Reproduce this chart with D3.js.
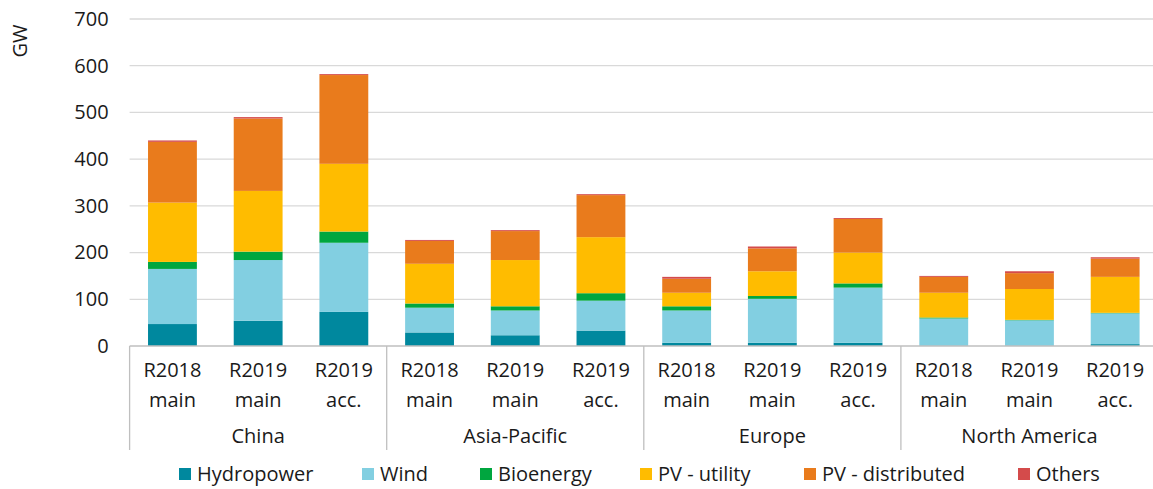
<!DOCTYPE html>
<html>
<head>
<meta charset="utf-8">
<script src="https://cdn.jsdelivr.net/npm/d3@7"></script>
<style>
  body { margin: 0; background: #fff; }
  text { font-family: "Open Sans", "Noto Sans", sans-serif; fill: #1a1a1a; }
</style>
</head>
<body>
<div class="chart"></div>
<script>
var svgWidth = 1153;
var svgHeight = 489;

// data (GW)
var regions = ["China", "Asia-Pacific", "Europe", "North America"];
var scenarios = [["R2018", "main"], ["R2019", "main"], ["R2019", "acc."]];
var seriesNames = ["Hydropower", "Wind", "Bioenergy", "PV - utility", "PV - distributed", "Others"];
var seriesColors = ["#00889e", "#82cfe1", "#00a63f", "#ffbc00", "#e97b1c", "#d44b4b"];

var hydropower    = [47, 54, 73,  29, 23, 33,  7, 7, 7,  0, 0, 4];
var wind          = [118, 130, 148,  53, 53, 64,  69, 94, 118,  59, 55, 66];
var bioenergy     = [15, 18, 24,  9, 9, 16,  9, 6, 9,  2, 1, 1];
var pvUtility     = [127, 130, 145,  85, 99, 120,  29, 53, 66,  53, 66, 77];
var pvDistributed = [130, 155, 190,  49, 62, 90,  30, 49, 72,  34, 34, 39];
var others        = [3, 3, 2,  2, 2, 2,  4, 4, 2,  2, 4, 3];

var yTicks = [0, 100, 200, 300, 400, 500, 600, 700];

var seriesValues = [hydropower, wind, bioenergy, pvUtility, pvDistributed, others];

// build rows for the stack
var rows = [];
regions.forEach(function(r, ri) {
  scenarios.forEach(function(s, si) {
    var row = { id: r + "|" + si, region: r, scen: s };
    var idx = ri * scenarios.length + si;
    seriesNames.forEach(function(name, k) {
      row[name] = seriesValues[k][idx];
    });
    rows.push(row);
  });
});

var plotLeft = 129.6;
var step = 85.7;
var plotTop = 19;
var plotBottom = 346;

var svg = d3.select(".chart").append("svg")
  .attr("width", svgWidth)
  .attr("height", svgHeight);

var xScale = d3.scaleBand()
  .domain(rows.map(d => d.id))
  .range([plotLeft, plotLeft + step * rows.length])
  .paddingInner(0.43)
  .paddingOuter(0.215);

var yScale = d3.scaleLinear()
  .domain([0, 700])
  .range([plotBottom, plotTop]);

// gridlines
svg.append("g")
  .selectAll("line")
  .data(yTicks.slice(1))
  .enter()
  .append("line")
  .attr("x1", plotLeft)
  .attr("x2", svgWidth)
  .attr("y1", d => yScale(d))
  .attr("y2", d => yScale(d))
  .attr("stroke", "#d9d9d9")
  .attr("stroke-width", 1.3);

// y axis labels
var leftAxis = d3.axisLeft(yScale).tickValues(yTicks).tickSize(0).tickPadding(21);
var yAxis = svg.append("g")
  .attr("transform", `translate(${plotLeft}, 0)`)
  .call(leftAxis);
yAxis.select(".domain").remove();
yAxis.selectAll("text")
  .style("font-size", "20px")
  .attr("fill", "#1a1a1a")
  .attr("font-family", "Open Sans, Noto Sans, sans-serif");

svg.append("text")
  .attr("transform", "translate(27, 41) rotate(-90)")
  .attr("text-anchor", "middle")
  .style("font-size", "20px")
  .text("GW");

// stacked bars
var stack = d3.stack().keys(seriesNames);
var stacked = stack(rows);

svg.append("g")
  .selectAll("g")
  .data(stacked)
  .enter()
  .append("g")
  .attr("fill", (d, i) => seriesColors[i])
  .selectAll("rect")
  .data(d => d)
  .enter()
  .append("rect")
  .attr("x", d => xScale(d.data.id))
  .attr("width", xScale.bandwidth())
  .attr("y", d => yScale(d[1]))
  .attr("height", d => Math.max(0, yScale(d[0]) - yScale(d[1])));

// x axis line
svg.append("line")
  .attr("x1", plotLeft)
  .attr("x2", svgWidth)
  .attr("y1", plotBottom)
  .attr("y2", plotBottom)
  .attr("stroke", "#bfbfbf")
  .attr("stroke-width", 1.5);

// group separators
var groupBounds = regions.map((r, i) => plotLeft + i * step * scenarios.length);
svg.append("g")
  .selectAll("line")
  .data(groupBounds)
  .enter()
  .append("line")
  .attr("x1", d => d)
  .attr("x2", d => d)
  .attr("y1", plotBottom)
  .attr("y2", 450)
  .attr("stroke", "#bfbfbf")
  .attr("stroke-width", 1.3);

// category labels
var catLabels = svg.append("g")
  .selectAll("text")
  .data(rows)
  .enter()
  .append("text")
  .attr("text-anchor", "middle")
  .style("font-size", "20px")
  .attr("x", d => xScale(d.id) + xScale.bandwidth() / 2);
catLabels.append("tspan")
  .attr("x", d => xScale(d.id) + xScale.bandwidth() / 2)
  .attr("y", 377)
  .text(d => d.scen[0]);
catLabels.append("tspan")
  .attr("x", d => xScale(d.id) + xScale.bandwidth() / 2)
  .attr("y", 407)
  .text(d => d.scen[1]);

// region labels
svg.append("g")
  .selectAll("text")
  .data(regions)
  .enter()
  .append("text")
  .attr("text-anchor", "middle")
  .style("font-size", "20px")
  .attr("x", (d, i) => groupBounds[i] + step * scenarios.length / 2)
  .attr("y", 443)
  .text(d => d);

// legend
var legendX = [179, 362, 480, 640, 804, 1018];
var legend = svg.append("g")
  .selectAll("g")
  .data(seriesNames)
  .enter()
  .append("g")
  .attr("transform", (d, i) => `translate(${legendX[i]}, 468)`);
legend.append("rect")
  .attr("width", 12)
  .attr("height", 12)
  .attr("fill", (d, i) => seriesColors[i]);
legend.append("text")
  .attr("x", 18)
  .attr("y", 13)
  .style("font-size", "20px")
  .text(d => d);
</script>
</body>
</html>
